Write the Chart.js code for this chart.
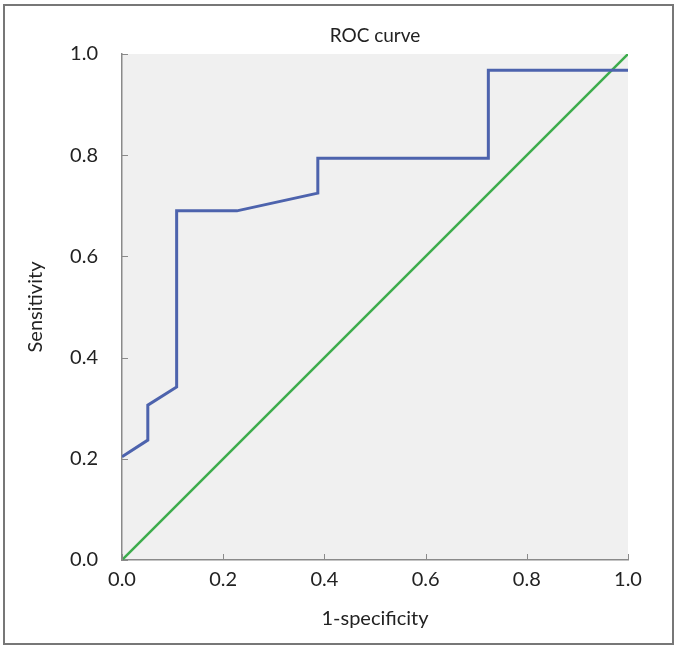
<!DOCTYPE html>
<html>
<head>
<meta charset="utf-8">
<script src="https://cdn.jsdelivr.net/npm/chart.js@4/dist/chart.umd.min.js"></script>
<style>
    html, body { margin: 0; padding: 0; background: #fff; }
    .frame {
        position: absolute; left: 3px; top: 4px; width: 671px; height: 641px;
        border: 2px solid #777; box-sizing: border-box;
    }
    .wrap { position: absolute; left: 0; top: 0; width: 678px; height: 649px; }
</style>
</head>
<body>
<div class="frame"></div>
<div class="wrap"><canvas id="rocChart" width="678" height="649"></canvas></div>
<script>
// ROC curve
const fpr = [0, 0.051, 0.051, 0.108, 0.108, 0.227, 0.387, 0.387, 0.724, 0.724, 1.0];
const tpr = [0.204, 0.237, 0.306, 0.342, 0.690, 0.690, 0.725, 0.794, 0.794, 0.968, 0.968];
const refX = [0, 1];
const refY = [0, 1];
const tickValues = [0, 0.2, 0.4, 0.6, 0.8, 1.0];

const FONT = 'Lato, "Open Sans", sans-serif';
const TEXT = '#222';
const AXIS = '#8a8a8a';

// fondo gris del area de trazado
const plotBackground = {
    id: 'plotBackground',
    beforeDraw(chart) {
        const { ctx, chartArea: a } = chart;
        ctx.save();
        ctx.fillStyle = '#f0f0f0';
        ctx.fillRect(a.left, a.top, a.right - a.left, a.bottom - a.top);
        ctx.restore();
    }
};

// marcas de los ejes hacia adentro
const innerTicks = {
    id: 'innerTicks',
    afterDraw(chart) {
        const { ctx, scales } = chart;
        const x = scales.x, y = scales.y;
        ctx.save();
        ctx.strokeStyle = AXIS;
        ctx.lineWidth = 1;
        ctx.beginPath();
        tickValues.forEach(v => {
            const px = Math.round(x.getPixelForValue(v)) + 0.5;
            ctx.moveTo(px, y.bottom);
            ctx.lineTo(px, y.bottom - 6);
            const py = Math.round(y.getPixelForValue(v)) + 0.5;
            ctx.moveTo(x.left, py);
            ctx.lineTo(x.left + 6, py);
        });
        ctx.stroke();
        ctx.restore();
    }
};

const ctx = document.getElementById('rocChart').getContext('2d');
new Chart(ctx, {
    type: 'scatter',
    data: {
        datasets: [
            {
                label: 'ROC',
                data: fpr.map((v, i) => ({ x: v, y: tpr[i] })),
                showLine: true,
                borderColor: '#4d63ad',
                borderWidth: 3,
                pointRadius: 0,
                tension: 0
            },
            {
                label: 'Reference',
                data: refX.map((v, i) => ({ x: v, y: refY[i] })),
                showLine: true,
                borderColor: '#3cac4c',
                borderWidth: 2.5,
                pointRadius: 0
            }
        ]
    },
    options: {
        responsive: false,
        animation: false,
        layout: { padding: { top: 0, right: 50, bottom: 0, left: 0 } },
        plugins: {
            legend: { display: false },
            tooltip: { enabled: false },
            title: {
                display: true,
                text: 'ROC curve',
                fullSize: false,
                color: TEXT,
                font: { family: FONT, size: 19, weight: 'normal' },
                padding: { top: 24, bottom: 7.2 }
            }
        },
        scales: {
            x: {
                type: 'linear',
                min: 0, max: 1,
                afterFit: s => { s.height = 89; },
                afterBuildTicks: s => { s.ticks = tickValues.map(v => ({ value: v })); },
                grid: { color: 'transparent', drawTicks: false },
                border: { display: true, color: AXIS, width: 1.5 },
                ticks: {
                    padding: 8,
                    color: TEXT,
                    font: { family: FONT, size: 20 },
                    callback: v => v.toFixed(1)
                },
                title: {
                    display: true,
                    text: '1-specificity',
                    color: TEXT,
                    font: { family: FONT, size: 20 },
                    padding: { top: 0, bottom: 18 }
                }
            },
            y: {
                type: 'linear',
                min: 0, max: 1,
                afterFit: s => { s.width = 122; },
                afterBuildTicks: s => { s.ticks = tickValues.map(v => ({ value: v })); },
                grid: { color: 'transparent', drawTicks: false },
                border: { display: true, color: AXIS, width: 1.5 },
                ticks: {
                    padding: 24,
                    color: TEXT,
                    font: { family: FONT, size: 20 },
                    callback: v => v.toFixed(1)
                },
                title: {
                    display: true,
                    text: 'Sensitivity',
                    color: TEXT,
                    font: { family: FONT, size: 20 },
                    padding: { top: 24, bottom: 0 }
                }
            }
        }
    },
    plugins: [plotBackground, innerTicks]
});
</script>
</body>
</html>
